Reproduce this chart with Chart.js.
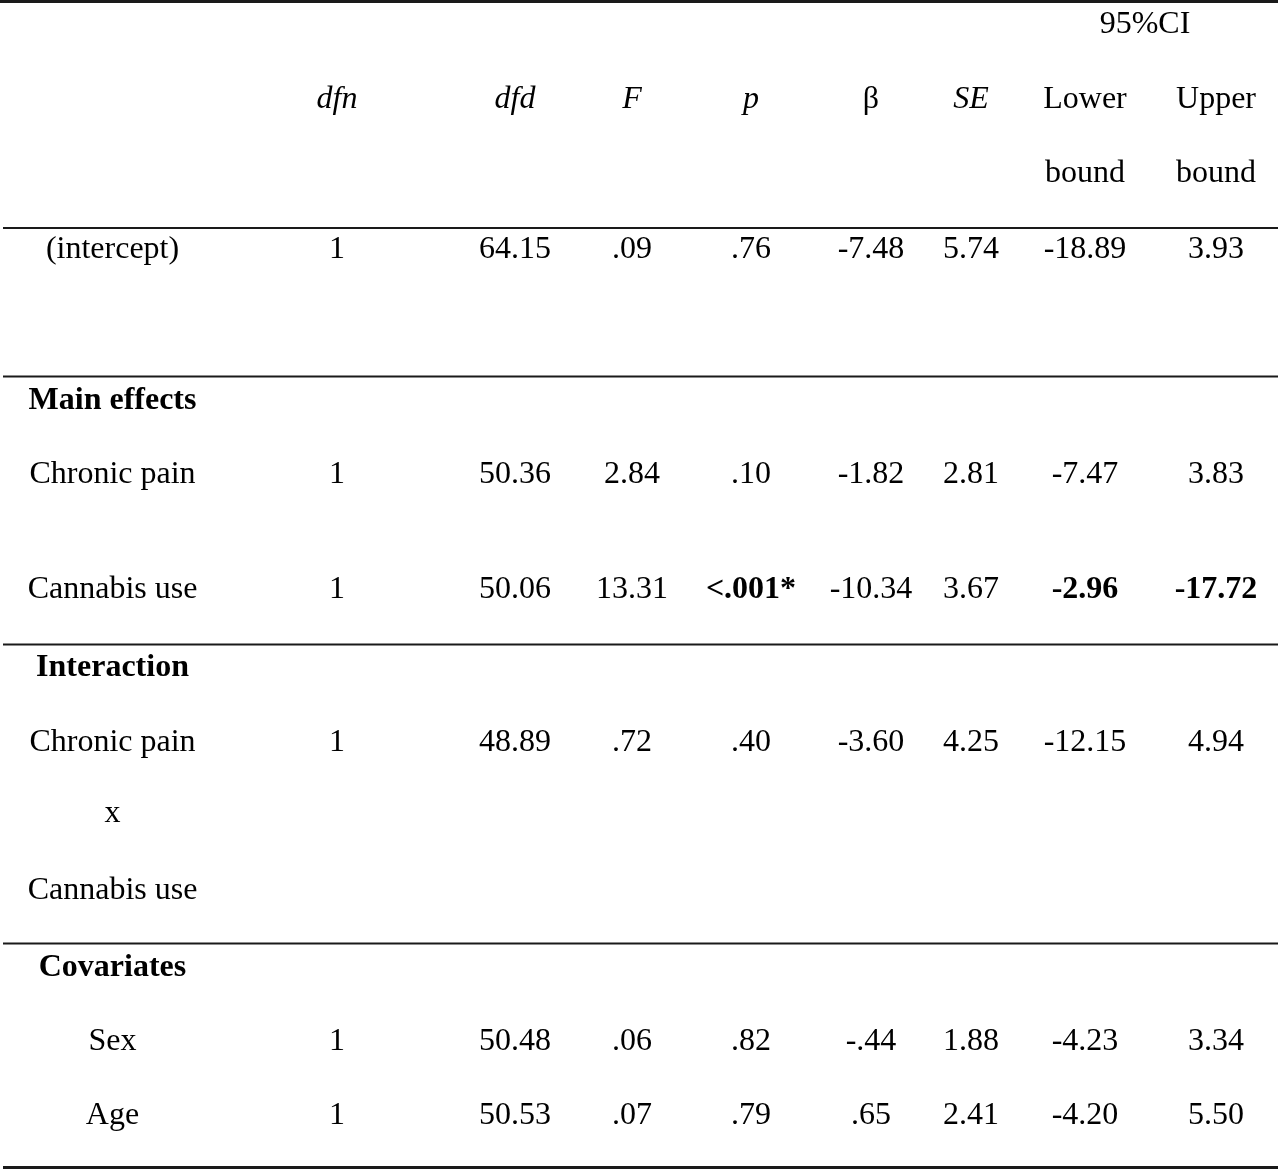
<!DOCTYPE html>
<html>
<head>
<meta charset="utf-8">
<script src="https://cdn.jsdelivr.net/npm/chart.js@4"></script>
<style>
  html, body { margin: 0; padding: 0; background: #fff; }
  #wrap { width: 1280px; height: 1171px; position: relative; }
</style>
</head>
<body>
<div id="wrap"><canvas id="table-chart"></canvas></div>
<script>
// table content
const headers = ['', 'dfn', 'dfd', 'F', 'p', 'β', 'SE', 'Lower', 'Upper'];
const headerSub = ['', '', '', '', '', '', '', 'bound', 'bound'];
const ciLabel = '95%CI';
const rowLabels = ['(intercept)', 'Main effects', 'Chronic pain', 'Cannabis use', 'Interaction',
                   'Chronic pain', 'x', 'Cannabis use', 'Covariates', 'Sex', 'Age'];
const dfn   = ['1', '', '1', '1', '', '1', '', '', '', '1', '1'];
const dfd   = ['64.15', '', '50.36', '50.06', '', '48.89', '', '', '', '50.48', '50.53'];
const Fval  = ['.09', '', '2.84', '13.31', '', '.72', '', '', '', '.06', '.07'];
const pval  = ['.76', '', '.10', '<.001*', '', '.40', '', '', '', '.82', '.79'];
const beta  = ['-7.48', '', '-1.82', '-10.34', '', '-3.60', '', '', '', '-.44', '.65'];
const se    = ['5.74', '', '2.81', '3.67', '', '4.25', '', '', '', '1.88', '2.41'];
const lower = ['-18.89', '', '-7.47', '-2.96', '', '-12.15', '', '', '', '-4.23', '-4.20'];
const upper = ['3.93', '', '3.83', '-17.72', '', '4.94', '', '', '', '3.34', '5.50'];
const boldRows = [1, 4, 8];               // section titles
const boldCells = [[3, 4], [3, 7], [3, 8]]; // [row, column]
const italicHeaders = [1, 2, 3, 4, 6];

// layout (table units = pixels of the page)
const colX = [112.5, 337, 515, 632, 751, 871, 971, 1085, 1216];
const ciX = 1145;
const ciY = 33, headY = 108, subY = 182;
const rowY = [258, 409, 483, 598, 676, 751, 822, 899, 976, 1050, 1124];
const ruleY = [1.5, 228, 376.5, 644.5, 943.5, 1167.5];
const ruleW = [3, 2, 2, 2, 2, 3];
const ruleX0 = [0, 3, 3, 3, 3, 3];
const ruleX1 = 1278;

const FONT = '"Liberation Serif", "Times New Roman", serif';
const SIZE = 32;

const columnsData = [rowLabels, dfn, dfd, Fval, pval, beta, se, lower, upper];

const rules = ruleY.map((y, i) => ({
    data: [{ x: ruleX0[i], y: y }, { x: ruleX1, y: y }],
    showLine: true,
    borderColor: '#1a1a1a',
    borderWidth: ruleW[i],
    pointRadius: 0,
    borderCapStyle: 'butt'
}));

const cellText = {
    id: 'cellText',
    afterDatasetsDraw(chart) {
        const { ctx, scales: { x, y } } = chart;
        ctx.save();
        ctx.fillStyle = '#000';
        ctx.textAlign = 'center';
        ctx.textBaseline = 'alphabetic';
        const put = (txt, cx, cy, bold, italic) => {
            if (!txt) return;
            ctx.font = `${italic ? 'italic ' : ''}${bold ? 'bold ' : ''}${SIZE}px ${FONT}`;
            ctx.fillText(txt, x.getPixelForValue(cx), y.getPixelForValue(cy));
        };
        put(ciLabel, ciX, ciY, false, false);
        headers.forEach((h, c) => put(h, colX[c], headY, false, italicHeaders.includes(c)));
        headerSub.forEach((h, c) => put(h, colX[c], subY, false, false));
        columnsData.forEach((col, c) => {
            col.forEach((txt, r) => {
                const bold = (c === 0 && boldRows.includes(r)) ||
                    boldCells.some(b => b[0] === r && b[1] === c);
                put(txt, colX[c], rowY[r], bold, false);
            });
        });
        ctx.restore();
    }
};

new Chart(document.getElementById('table-chart'), {
    type: 'scatter',
    data: { datasets: rules },
    options: {
        responsive: true,
        maintainAspectRatio: false,
        animation: false,
        layout: { padding: 0 },
        scales: {
            x: { type: 'linear', display: false, min: 0, max: 1280 },
            y: { type: 'linear', display: false, min: 0, max: 1171, reverse: true }
        },
        plugins: { legend: { display: false }, tooltip: { enabled: false } }
    },
    plugins: [cellText]
});
</script>
</body>
</html>
